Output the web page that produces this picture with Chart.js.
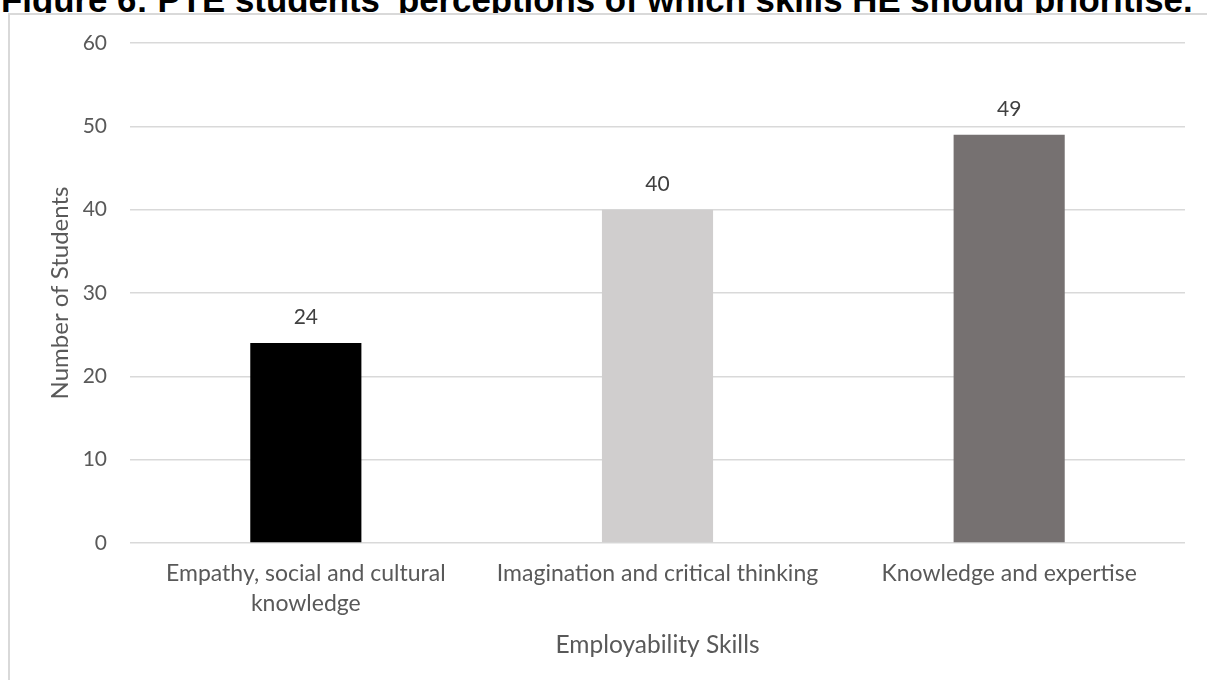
<!DOCTYPE html>
<html>
<head>
<meta charset="utf-8">
<script src="https://cdn.jsdelivr.net/npm/chart.js@4"></script>
<style>
  html, body { margin: 0; padding: 0; background: #fff; overflow: hidden; }
  body { width: 1207px; height: 680px; position: relative; }
  #caption {
    position: absolute; left: 1px; top: -17px;
    font: bold 34.8px "Liberation Sans", Arial, sans-serif;
    line-height: 1; color: #000; white-space: nowrap;
  }
  #frame {
    position: absolute; left: 8px; top: 13px; width: 1199px; height: 667px;
    border-left: 2px solid #d9d9d9; border-top: 2px solid #d9d9d9;
    background: #fff; box-sizing: border-box;
  }
  #skillsChart { position: absolute; left: 10px; top: 15px; }
</style>
</head>
<body>
<div id="caption">Figure 6: PTE students' perceptions of which skills HE should prioritise.</div>
<div id="frame"></div>
<canvas id="skillsChart" width="1197" height="665"></canvas>
<script>
const skills = [
  ['Empathy, social and cultural', 'knowledge'],
  'Imagination and critical thinking',
  'Knowledge and expertise'
];
const studentCounts = [24, 40, 49];
const barColours = ['#000000', '#d0cece', '#767171'];
const yTicks = [0, 10, 20, 30, 40, 50, 60];

const textGrey = '#595959';
const family = 'Lato, Calibri, sans-serif';

// prints the count above each bar
const valueLabels = {
  id: 'valueLabels',
  afterDatasetsDraw(chart) {
    const ctx = chart.ctx;
    const meta = chart.getDatasetMeta(0);
    ctx.save();
    ctx.font = '21px ' + family;
    ctx.fillStyle = '#404040';
    ctx.textAlign = 'center';
    ctx.textBaseline = 'alphabetic';
    meta.data.forEach((bar, i) => {
      ctx.fillText(String(chart.data.datasets[0].data[i]), bar.x, bar.y - 19);
    });
    ctx.restore();
  }
};

new Chart(document.getElementById('skillsChart'), {
  type: 'bar',
  data: {
    labels: skills,
    datasets: [{
      label: 'Number of Students',
      data: studentCounts,
      backgroundColor: barColours,
      borderWidth: 0,
      categoryPercentage: 1,
      barPercentage: 0.316
    }]
  },
  options: {
    responsive: false,
    animation: false,
    layout: { padding: { top: 28, right: 22, left: 0, bottom: 0 } },
    plugins: {
      legend: { display: false },
      tooltip: { enabled: false }
    },
    scales: {
      x: {
        grid: { display: false, drawTicks: false },
        border: { display: false },
        ticks: {
          color: textGrey,
          font: { family, size: 23, lineHeight: 1.3 },
          padding: 16, maxRotation: 0, autoSkip: false
        },
        title: {
          display: true,
          text: 'Employability Skills',
          color: textGrey,
          font: { family, size: 24.5, lineHeight: 1.2 },
          padding: { top: 0, bottom: 20 }
        },
        afterFit(scale) { scale.height = 137; }
      },
      y: {
        min: 0,
        max: 60,
        afterBuildTicks(scale) { scale.ticks = yTicks.map(v => ({ value: v })); },
        grid: { color: '#d9d9d9', lineWidth: 1.5, drawTicks: false },
        border: { display: false },
        // small lineHeight keeps the top label from pushing the plot area down
        ticks: { color: textGrey, font: { family, size: 21, lineHeight: 0.45 }, padding: 23 },
        title: {
          display: true,
          text: 'Number of Students',
          color: textGrey,
          font: { family, size: 24, lineHeight: 1.2 },
          padding: { top: 36, bottom: 0 }
        },
        afterFit(scale) { scale.width = 120; }
      }
    }
  },
  plugins: [valueLabels]
});
</script>
</body>
</html>
